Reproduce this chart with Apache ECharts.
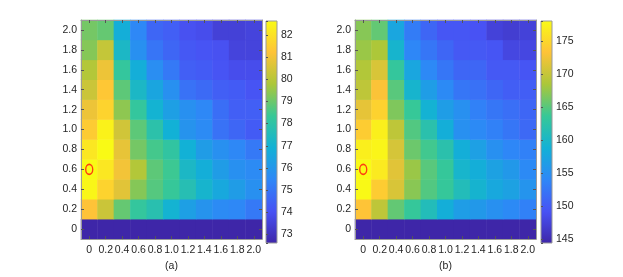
<!DOCTYPE html>
<html><head><meta charset="utf-8">
<script src="https://cdn.jsdelivr.net/npm/echarts@6/dist/echarts.min.js"></script>
<style>html,body{margin:0;padding:0;background:#fff}#c{width:623px;height:277px}</style>
</head><body><div id="c"></div>
<script>
const xLabels = ['0','0.2','0.4','0.6','0.8','1.0','1.2','1.4','1.6','1.8','2.0'];
const yLabels = ['0','0.2','0.4','0.6','0.8','1.0','1.2','1.4','1.6','1.8','2.0'];
// rows from y=0 (bottom) to y=2.0 (top); columns x=0..2.0
const valuesA = [
  [72.62,72.62,72.62,72.62,72.62,72.62,72.62,72.62,72.62,72.62,72.62],
  [81.2,80.3,78.9,78.2,77.8,77.0,76.3,75.9,75.6,75.5,75.1],
  [82.5,81.6,80.7,79.3,78.7,78.3,77.7,77.1,76.6,76.2,75.8],
  [82.6,82.1,81.0,79.9,78.8,78.4,77.3,76.8,76.2,75.8,75.6],
  [82.1,82.6,80.8,79.1,78.5,78.1,76.9,76.2,75.8,75.5,75.1],
  [81.4,82.4,80.4,78.8,77.9,76.9,75.9,75.6,74.9,74.6,74.3],
  [80.9,81.6,79.4,78.2,77.0,76.3,75.8,75.5,74.8,74.4,74.4],
  [80.3,81.3,78.8,77.3,76.5,75.8,74.9,74.7,74.4,74.3,74.1],
  [79.9,80.9,78.2,76.8,75.7,75.1,74.4,74.3,74.1,73.9,73.9],
  [79.3,80.2,77.3,75.8,75.0,74.6,74.2,74.1,74.0,73.6,73.6],
  [79.1,78.9,76.8,75.5,74.6,74.4,74.0,73.9,73.5,73.5,73.6]
];
const valuesB = [
  [144.4,144.4,144.4,144.4,144.4,144.4,144.4,144.4,144.4,144.4,144.4],
  [173.3,169.5,165.4,163.4,161.0,158.5,156.5,156.0,155.0,154.3,153.5],
  [177.8,174.0,171.0,167.0,164.7,163.4,161.0,159.3,157.8,157.0,155.5],
  [178.0,176.5,171.5,167.7,165.0,163.4,159.6,158.5,157.0,156.0,154.3],
  [177.0,177.5,170.8,165.8,164.0,162.0,158.5,156.8,155.0,154.0,153.5],
  [174.0,177.0,169.5,164.7,162.0,158.5,155.0,154.3,153.5,152.5,151.3],
  [171.8,174.5,166.6,163.5,159.0,156.5,155.0,153.5,152.5,151.8,151.0],
  [169.5,173.0,165.0,159.5,156.5,154.3,152.5,152.0,151.0,150.3,150.3],
  [168.8,171.0,163.2,157.5,154.2,152.5,151.0,151.0,149.8,149.8,149.5],
  [167.7,168.5,159.5,154.0,152.5,151.0,149.8,149.8,149.5,148.0,148.0],
  [166.9,165.4,157.5,153.0,151.0,149.6,149.6,149.2,147.5,147.0,147.5]
];
const rangeA = [72.62, 82.62];
const rangeB = [144.4, 178.0];
const tickStepA = 1;
const tickStepB = 5;
const markerPoint = ['0', '0.6'];
const panelLabels = ['(a)', '(b)'];
const parula = ['#3e26a8','#4852f4','#2e87f7','#12b1d6','#37c897','#abc739','#fec338','#f9fb15'];

const FONT = '"Liberation Sans Narrow","Liberation Sans",Arial,sans-serif';
const TXT = '#262626';
const FRAME = '#9a9a9a';

function toData(m) {
  const out = [];
  m.forEach((row, yi) => row.forEach((v, xi) => out.push([xi, yi, v])));
  return out;
}
function catX(gridIndex, pos, showLabel, name) {
  return {
    type: 'category', gridIndex, position: pos, data: xLabels, z: 4,
    boundaryGap: true,
    axisLine: { show: true, lineStyle: { color: FRAME, width: 1 } },
    axisTick: { show: true, inside: true, alignWithLabel: true, length: 3, lineStyle: { color: '#555' } },
    axisLabel: { show: showLabel, interval: 0, margin: 6, color: TXT, fontFamily: FONT, fontSize: 10.5, hideOverlap: false },
    splitLine: { show: false },
    name: name || '', nameLocation: 'middle', nameGap: 20,
    nameTextStyle: { color: TXT, fontFamily: FONT, fontSize: 10.5 }
  };
}
function catY(gridIndex, pos, showLabel) {
  return {
    type: 'category', gridIndex, position: pos, data: yLabels, z: 4,
    boundaryGap: true,
    axisLine: { show: true, lineStyle: { color: FRAME, width: 1 } },
    axisTick: { show: true, inside: true, alignWithLabel: true, length: 3, lineStyle: { color: '#555' } },
    axisLabel: { show: showLabel, interval: 0, margin: 4, color: TXT, fontFamily: FONT, fontSize: 10.5 },
    splitLine: { show: false }
  };
}
function barX(gridIndex) {
  return { type: 'value', gridIndex, min: 0, max: 1, show: false };
}
function barY(gridIndex, range, step) {
  return {
    type: 'value', gridIndex, position: 'right', min: range[0], max: range[1],
    minInterval: step, maxInterval: step, z: 4,
    axisLine: { show: false },
    axisTick: { show: true, inside: false, length: 2, lineStyle: { color: '#555' } },
    axisLabel: {
      margin: 4, color: TXT, fontFamily: FONT, fontSize: 10.5,
      formatter: v => (Math.abs(v / step - Math.round(v / step)) < 1e-6 ? String(Math.round(v)) : '')
    },
    splitLine: { show: false }
  };
}
const gradStops = parula.map((c, i) => ({ offset: i / (parula.length - 1), color: c }));
function colorbar(xi, yi, range) {
  return {
    type: 'custom', xAxisIndex: xi, yAxisIndex: yi, silent: true, z: 2,
    data: [[0, range[0], range[1]]],
    renderItem: (params, api) => {
      const p0 = api.coord([0, api.value(1)]);
      const p1 = api.coord([1, api.value(2)]);
      return {
        type: 'rect',
        shape: { x: p0[0], y: p1[1], width: p1[0] - p0[0], height: p0[1] - p1[1] },
        style: { fill: new echarts.graphic.LinearGradient(0, 1, 0, 0, gradStops), stroke: FRAME, lineWidth: 1 }
      };
    }
  };
}
function heat(xi, yi, m) {
  return {
    type: 'heatmap', xAxisIndex: xi, yAxisIndex: yi, data: toData(m),
    itemStyle: { borderWidth: 0 }, emphasis: { disabled: true }, silent: true, progressive: 0
  };
}
function marker(xi, yi) {
  return {
    type: 'scatter', xAxisIndex: xi, yAxisIndex: yi, z: 5, silent: true,
    data: [markerPoint], symbol: 'circle', symbolSize: [7, 10],
    itemStyle: { color: 'rgba(0,0,0,0)', borderColor: '#ff1010', borderWidth: 1.6 }
  };
}

const chart = echarts.init(document.getElementById('c'), null, { renderer: 'canvas' });
chart.setOption({
  animation: false,
  backgroundColor: '#fff',
  grid: [
    { left: 81, top: 20, width: 181, height: 223 },
    { left: 266, top: 21, width: 11, height: 222 },
    { left: 355, top: 20, width: 181, height: 223 },
    { left: 541, top: 21, width: 11, height: 222 }
  ],
  xAxis: [
    catX(0, 'bottom', true, panelLabels[0]), catX(0, 'top', false), barX(1),
    catX(2, 'bottom', true, panelLabels[1]), catX(2, 'top', false), barX(3)
  ],
  yAxis: [
    catY(0, 'left', true), catY(0, 'right', false), barY(1, rangeA, tickStepA),
    catY(2, 'left', true), catY(2, 'right', false), barY(3, rangeB, tickStepB)
  ],
  visualMap: [
    { show: false, type: 'continuous', seriesIndex: 0, dimension: 2, min: rangeA[0], max: rangeA[1], inRange: { color: parula } },
    { show: false, type: 'continuous', seriesIndex: 3, dimension: 2, min: rangeB[0], max: rangeB[1], inRange: { color: parula } }
  ],
  series: [
    heat(0, 0, valuesA), marker(0, 0), colorbar(2, 2, rangeA),
    heat(3, 3, valuesB), marker(3, 3), colorbar(5, 5, rangeB)
  ]
});
</script>
</body></html>
